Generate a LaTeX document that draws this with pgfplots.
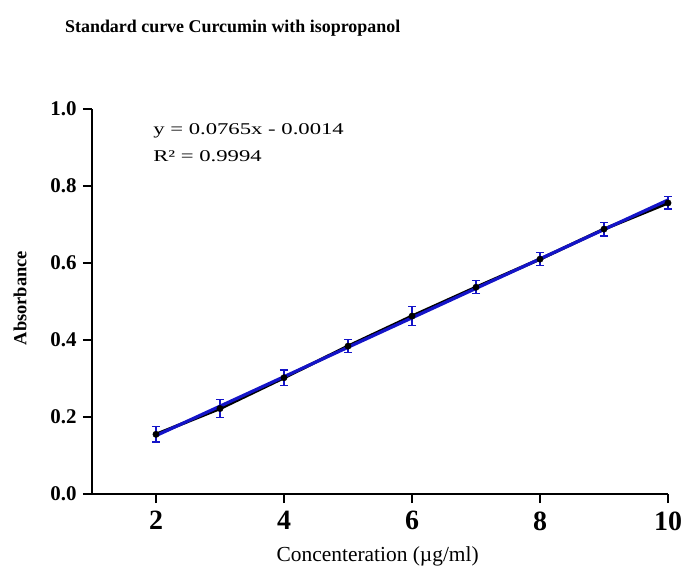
\documentclass[border=0pt]{standalone}
\usepackage{fontspec}
\setmainfont{Liberation Serif}
\usepackage{pgfplots}
\pgfplotsset{compat=1.18}
\definecolor{fitblue}{RGB}{20,20,200}
\begin{document}
\begin{tikzpicture}[x=1bp,y=1bp]
\path[use as bounding box] (-92bp,-75bp) rectangle (590bp,494bp);
\begin{axis}[
  at={(0,0)}, anchor=origin,
  scale only axis, width=576bp, height=385bp,
  xmin=1, xmax=10, ymin=0, ymax=1,
  axis x line*=bottom, axis y line*=left,
  axis line style={line width=2.8bp,-},
  xtick={2,4,6,8,10}, ytick={0,0.2,0.4,0.6,0.8,1.0},
  tick style={line width=2.6bp,black},
  tick align=outside, major tick length=9bp,
  /pgf/number format/assume math mode=true,
  yticklabel style={/pgf/number format/fixed,/pgf/number format/fixed zerofill,/pgf/number format/precision=1},
  yticklabel style={font=\fontsize{21}{22}\selectfont\bfseries, xshift=-3bp},
  xticklabel style={font=\fontsize{28}{29}\selectfont\bfseries, yshift=-5bp},
  clip=false,
]
\addplot[black, line width=3.2bp, mark=none] coordinates {
(2,0.155)(3,0.222)(4,0.302)(5,0.384)(6,0.462)(7,0.537)(8,0.610)(9,0.688)(10,0.756)};
\addplot[fitblue, line width=3.2bp, mark=none] coordinates {(2,0.1516)(10,0.7636)};
\addplot[only marks, mark=*, mark size=3.2bp, black,
  error bars/.cd, y dir=both, y explicit,
  error bar style={fitblue,line width=1.2bp},
  error mark options={fitblue,line width=1.2bp,mark size=4bp,rotate=90}]
  coordinates {
(2,0.155) +- (0,0.020)
(3,0.222) +- (0,0.024)
(4,0.302) +- (0,0.020)
(5,0.384) +- (0,0.017)
(6,0.462) +- (0,0.025)
(7,0.537) +- (0,0.017)
(8,0.610) +- (0,0.017)
(9,0.688) +- (0,0.018)
(10,0.756) +- (0,0.016)};
\node[anchor=west, font=\fontsize{16.5}{18}\selectfont, inner sep=0pt, xscale=1.38] at (rel axis cs:0.106,0.943) {y = 0.0765x - 0.0014};
\node[anchor=west, font=\fontsize{16.5}{18}\selectfont, inner sep=0pt, xscale=1.38] at (rel axis cs:0.106,0.878) {R² = 0.9994};
\node[anchor=west, font=\fontsize{18}{20}\selectfont\bfseries, inner sep=0pt] at (rel axis cs:-0.047,1.21) {Standard curve Curcumin with isopropanol};
\node[font=\fontsize{21.5}{23}\selectfont, inner sep=0pt] at (rel axis cs:0.496,-0.161) {Concenteration (µg/ml)};
\node[rotate=90, font=\fontsize{18.5}{20}\selectfont\bfseries, inner sep=0pt] at (rel axis cs:-0.125,0.509) {Absorbance};
\end{axis}
\end{tikzpicture}
\end{document}
